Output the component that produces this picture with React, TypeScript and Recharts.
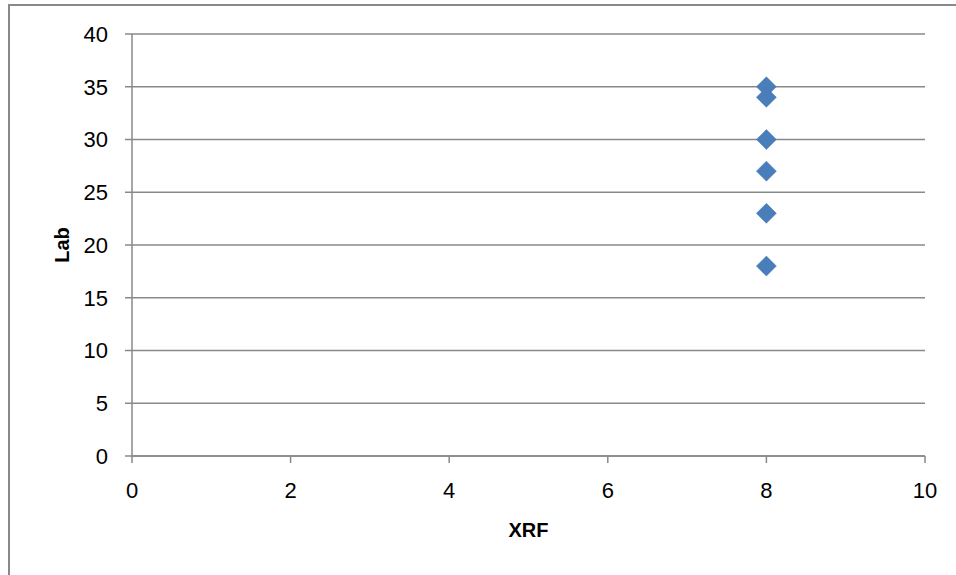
import React from "react";
import { ScatterChart, Scatter, XAxis, YAxis, CartesianGrid, Label } from "recharts";

const xrfValues = [8, 8, 8, 8, 8, 8];
const labValues = [35, 34, 30, 27, 23, 18];
const xTicks = [0, 2, 4, 6, 8, 10];
const yTicks = [0, 5, 10, 15, 20, 25, 30, 35, 40];

const points = xrfValues.map((x, i) => ({ xrf: x, lab: labValues[i] }));

const axisGray = "#898989";
const font = "'Liberation Sans', Arial, sans-serif";

// Excel-style diamond marker
const Diamond = (props: any) => {
  const { cx, cy } = props;
  const r = 10;
  return (
    <polygon
      points={`${cx},${cy - r} ${cx + r},${cy} ${cx},${cy + r} ${cx - r},${cy}`}
      fill="#4a7ebb"
      stroke="#4677b4"
      strokeWidth={0.5}
    />
  );
};

export default function App() {
  return (
    <div
      style={{
        position: "absolute",
        left: 8,
        top: 4,
        width: 946,
        height: 573,
        borderTop: `2px solid ${axisGray}`,
        borderLeft: `2px solid ${axisGray}`,
        background: "#fff",
      }}
    >
      <ScatterChart
        width={946}
        height={569}
        margin={{ top: 28, right: 31, left: 18, bottom: 89 }}
        style={{ fontFamily: font }}
      >
        <CartesianGrid vertical={false} stroke={axisGray} strokeWidth={1.5} />
        <XAxis
          type="number"
          dataKey="xrf"
          domain={[0, 10]}
          ticks={xTicks}
          height={30}
          tickSize={7}
          tickMargin={19}
          axisLine={{ stroke: axisGray, strokeWidth: 1.5 }}
          tickLine={{ stroke: axisGray, strokeWidth: 1.5 }}
          tick={{ fill: "#000", fontSize: 22, fontFamily: font }}
        >
          <Label
            value="XRF"
            position="bottom"
            offset={37}
            style={{ fill: "#000", fontSize: 20, fontWeight: "bold", fontFamily: font }}
          />
        </XAxis>
        <YAxis
          type="number"
          dataKey="lab"
          domain={[0, 40]}
          ticks={yTicks}
          width={104}
          tickSize={7}
          tickMargin={17}
          axisLine={{ stroke: axisGray, strokeWidth: 1.5 }}
          tickLine={{ stroke: axisGray, strokeWidth: 1.5 }}
          tick={{ fill: "#000", fontSize: 22, fontFamily: font }}
        >
          <Label
            content={({ viewBox }: any) => {
              const x = viewBox.x + 34;
              const y = viewBox.y + viewBox.height / 2;
              return (
                <text
                  x={x}
                  y={y}
                  transform={`rotate(-90 ${x} ${y})`}
                  textAnchor="middle"
                  dominantBaseline="central"
                  fill="#000"
                  fontSize={20}
                  fontWeight="bold"
                  fontFamily={font}
                >
                  Lab
                </text>
              );
            }}
          />
        </YAxis>
        <Scatter data={points} shape={Diamond} isAnimationActive={false} />
      </ScatterChart>
    </div>
  );
}
